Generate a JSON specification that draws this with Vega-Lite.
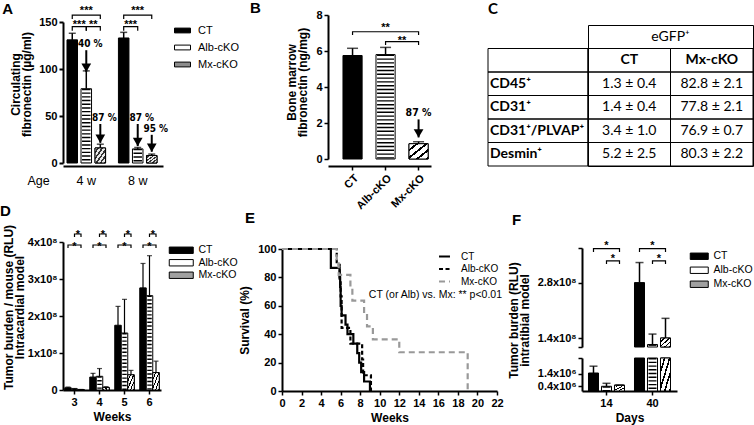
{
"$schema": "https://vega.github.io/schema/vega-lite/v6.json",
"autosize": {"type": "none"},
"padding": {"left": 63, "top": 25, "right": 691, "bottom": 400},
"background": "white",
"bounds": "flush",
"spacing": 217,
"resolve": {"scale": {"fill": "independent", "color": "independent", "strokeDash": "independent", "xOffset": "independent"}},
"vconcat": [
{"bounds": "flush", "spacing": 0,
 "resolve": {"scale": {"fill": "independent", "color": "independent", "strokeDash": "independent", "xOffset": "independent"}},
 "hconcat": [
{
"width": 265, "height": 141,
"encoding": {
 "x": {"field": "age", "type": "nominal", "title": "Age",
  "scale": {"domain": ["4 w", "8 w"], "range": [0, 100], "paddingInner": 0.25, "paddingOuter": 0.097, "align": 0.4},
  "axis": {"labelAngle": 0, "ticks": false, "labelFontWeight": "normal", "labelFontSize": 12.5, "labelPadding": 8, "titleFontWeight": "normal", "titleFontSize": 12.5, "titleX": -36, "titleY": 18, "titleAlign": "left", "titleBaseline": "alphabetic", "domainWidth": 2}},
 "xOffset": {"field": "grp", "type": "nominal", "scale": {"domain": ["CT", "Alb-cKO", "Mx-cKO"], "paddingInner": 0.25, "paddingOuter": 0}},
 "y": {"field": "v", "type": "quantitative",
  "scale": {"domain": [0, 150], "range": [138, -3], "nice": false},
  "axis": {"values": [0, 50, 100, 150], "title": ["Circulating", "fibronectin (µg/ml)"], "titleY": 59, "titleLineHeight": 11, "titlePadding": 5, "domainWidth": 2, "tickWidth": 2, "labelOverlap": false, "labelBound": false}}
},
"layer": [
 {"data": {"values": [
   {"age": "4 w", "grp": "CT", "v": 131, "hi": 138},
   {"age": "4 w", "grp": "Alb-cKO", "v": 79, "hi": 98},
   {"age": "4 w", "grp": "Mx-cKO", "v": 16, "hi": 20},
   {"age": "8 w", "grp": "CT", "v": 133, "hi": 139},
   {"age": "8 w", "grp": "Alb-cKO", "v": 15, "hi": 16.5},
   {"age": "8 w", "grp": "Mx-cKO", "v": 8, "hi": 9.5}]},
  "layer": [
   {"mark": {"type": "bar", "stroke": "black", "strokeWidth": 1},
    "encoding": {"fill": {"field": "grp", "type": "nominal", "scale": {"domain": ["CT", "Alb-cKO", "Mx-cKO"], "range": ["black", "white", "#8c8c8c"]},
     "legend": {"title": null, "orient": "none", "legendX": 110, "legendY": 0, "symbolType": "M-2,-0.6H2V0.6H-2Z", "symbolSize": 64, "symbolStrokeColor": "black", "symbolStrokeWidth": 1, "labelFontSize": 11, "labelOffset": 10, "rowPadding": 5, "symbolOffset": 4,
      "encode": {"symbols": {"update": {"stroke": {"value": "black"}, "strokeWidth": {"value": 1}}}}}}}},
   {"transform": [{"filter": "datum.grp === 'Alb-cKO'"}], "mark": {"type": "rule", "color": "black", "strokeWidth": 8.5, "strokeDash": [1.4, 2.3]}, "encoding": {"y2": {"datum": 0}}},
   {"transform": [{"filter": "datum.grp === 'Mx-cKO'"}], "mark": {"type": "bar", "stroke": "black", "strokeWidth": 1,
    "fill": {"gradient": "linear", "x1": 0, "y1": 0, "x2": 1, "y2": 1, "stops": [
     {"offset": 0, "color": "#e8e8e8"}, {"offset": 0.11, "color": "#e8e8e8"}, {"offset": 0.11, "color": "#333333"}, {"offset": 0.2, "color": "#333333"},
     {"offset": 0.2, "color": "#e8e8e8"}, {"offset": 0.31, "color": "#e8e8e8"}, {"offset": 0.31, "color": "#333333"}, {"offset": 0.4, "color": "#333333"},
     {"offset": 0.4, "color": "#e8e8e8"}, {"offset": 0.51, "color": "#e8e8e8"}, {"offset": 0.51, "color": "#333333"}, {"offset": 0.6, "color": "#333333"},
     {"offset": 0.6, "color": "#e8e8e8"}, {"offset": 0.71, "color": "#e8e8e8"}, {"offset": 0.71, "color": "#333333"}, {"offset": 0.8, "color": "#333333"},
     {"offset": 0.8, "color": "#e8e8e8"}, {"offset": 0.91, "color": "#e8e8e8"}, {"offset": 0.91, "color": "#333333"}, {"offset": 1, "color": "#333333"}]}}},
   {"mark": {"type": "rule", "color": "black", "strokeWidth": 1.5}, "encoding": {"y2": {"field": "hi"}}},
   {"mark": {"type": "tick", "orient": "horizontal", "size": 7, "thickness": 1.5, "color": "black"}, "encoding": {"y": {"field": "hi", "type": "quantitative"}}}
  ]},
 {"data": {"values": [
   {"id": "a1", "age": "4 w", "grp": "CT", "v": 153.2, "k": 0}, {"id": "a1", "age": "4 w", "grp": "CT", "v": 157.4, "k": 1}, {"id": "a1", "age": "4 w", "grp": "Mx-cKO", "v": 157.4, "k": 2}, {"id": "a1", "age": "4 w", "grp": "Mx-cKO", "v": 153.2, "k": 3},
   {"id": "a2", "age": "4 w", "grp": "CT", "v": 140.7, "k": 0}, {"id": "a2", "age": "4 w", "grp": "CT", "v": 145, "k": 1}, {"id": "a2", "age": "4 w", "grp": "Alb-cKO", "v": 145, "k": 2}, {"id": "a2", "age": "4 w", "grp": "Alb-cKO", "v": 140.7, "k": 3},
   {"id": "a3", "age": "4 w", "grp": "Alb-cKO", "v": 140.7, "k": 0}, {"id": "a3", "age": "4 w", "grp": "Alb-cKO", "v": 145, "k": 1}, {"id": "a3", "age": "4 w", "grp": "Mx-cKO", "v": 145, "k": 2}, {"id": "a3", "age": "4 w", "grp": "Mx-cKO", "v": 140.7, "k": 3},
   {"id": "a4", "age": "8 w", "grp": "CT", "v": 140.7, "k": 0}, {"id": "a4", "age": "8 w", "grp": "CT", "v": 145, "k": 1}, {"id": "a4", "age": "8 w", "grp": "Alb-cKO", "v": 145, "k": 2}, {"id": "a4", "age": "8 w", "grp": "Alb-cKO", "v": 140.7, "k": 3},
   {"id": "a5", "age": "8 w", "grp": "CT", "v": 153.2, "k": 0}, {"id": "a5", "age": "8 w", "grp": "CT", "v": 157.4, "k": 1}, {"id": "a5", "age": "8 w", "grp": "Mx-cKO", "v": 157.4, "k": 2}, {"id": "a5", "age": "8 w", "grp": "Mx-cKO", "v": 153.2, "k": 3}]},
  "mark": {"type": "line", "color": "black", "strokeWidth": 1.2},
  "encoding": {"detail": {"field": "id"}, "order": {"field": "k"}}},
 {"data": {"values": [{"age": "4 w", "grp": "Alb-cKO", "v": 158.7, "t": "***"}, {"age": "8 w", "grp": "Alb-cKO", "v": 158.7, "t": "***"}]},
  "mark": {"type": "text", "fontWeight": "bold", "fontSize": 11, "baseline": "alphabetic"}, "encoding": {"text": {"field": "t"}}},
 {"data": {"values": [{"age": "4 w", "grp": "CT", "v": 143.8, "t": "***"}, {"age": "4 w", "grp": "Alb-cKO", "v": 143.8, "t": "**"}, {"age": "8 w", "grp": "CT", "v": 143.8, "t": "***"}]},
  "mark": {"type": "text", "fontWeight": "bold", "fontSize": 11, "baseline": "alphabetic", "dx": 7}, "encoding": {"text": {"field": "t"}}},
 {"data": {"values": [
   {"age": "4 w", "grp": "Alb-cKO", "top": 120, "tip": 97, "lab": "40 %"},
   {"age": "4 w", "grp": "Mx-cKO", "top": 41.5, "tip": 21.5, "lab": "87 %"},
   {"age": "8 w", "grp": "Alb-cKO", "top": 41.5, "tip": 18, "lab": "87 %"},
   {"age": "8 w", "grp": "Mx-cKO", "top": 30, "tip": 12, "lab": "95 %"}]},
  "layer": [
   {"mark": {"type": "rule", "color": "black", "strokeWidth": 2}, "encoding": {"y": {"field": "top", "type": "quantitative"}, "y2": {"field": "tip"}}},
   {"mark": {"type": "point", "shape": "triangle-down", "filled": true, "color": "black", "opacity": 1, "size": 95, "yOffset": -4}, "encoding": {"y": {"field": "tip", "type": "quantitative"}}},
   {"mark": {"type": "text", "font": "Liberation Sans Narrow, DejaVu Sans Condensed, Liberation Sans", "fontWeight": "bold", "fontSize": 10, "baseline": "alphabetic", "dy": -3, "dx": 4}, "encoding": {"y": {"field": "top", "type": "quantitative"}, "text": {"field": "lab"}}}
  ]},
 {"data": {"values": [{"age": "4 w", "grp": "CT", "v": 158.5, "t": "A"}]},
  "mark": {"type": "text", "fontSize": 15, "fontWeight": "bold", "align": "left", "baseline": "alphabetic", "dx": -70}, "encoding": {"text": {"field": "t"}}}
]
},
{
"width": 160, "height": 141,
"encoding": {
 "x": {"field": "grp", "type": "nominal", "scale": {"domain": ["CT", "Alb-cKO", "Mx-cKO"], "range": [0, 103], "paddingInner": 0.42, "paddingOuter": 0.27, "align": 0.84},
  "axis": {"title": null, "labelAngle": -45, "domainWidth": 2}},
 "y": {"field": "v", "type": "quantitative", "scale": {"domain": [0, 8], "range": [134, -10], "nice": false},
  "axis": {"values": [0, 2, 4, 6, 8], "title": ["Bone marrow", "fibronectin (ng/mg)"], "titleY": 57, "titleLineHeight": 11, "domainWidth": 2, "labelOverlap": false, "labelBound": false}}
},
"layer": [
 {"data": {"values": [{"grp": "CT", "v": 5.75, "hi": 6.15}, {"grp": "Alb-cKO", "v": 5.8, "hi": 6.2}, {"grp": "Mx-cKO", "v": 0.85, "hi": 0.96}]},
  "layer": [
   {"mark": {"type": "bar", "stroke": "black", "strokeWidth": 1},
    "encoding": {"fill": {"field": "grp", "type": "nominal", "scale": {"domain": ["CT", "Alb-cKO", "Mx-cKO"], "range": ["black", "white", "white"]}, "legend": null}}},
   {"transform": [{"filter": "datum.grp === 'Alb-cKO'"}], "mark": {"type": "rule", "color": "black", "strokeWidth": 17, "strokeDash": [1.4, 2.4]}, "encoding": {"y2": {"datum": 0}}},
   {"transform": [{"filter": "datum.grp === 'Mx-cKO'"}], "mark": {"type": "bar", "stroke": "black", "strokeWidth": 1,
    "fill": {"gradient": "linear", "x1": 0, "y1": 0, "x2": 1, "y2": 1, "stops": [
     {"offset": 0, "color": "white"}, {"offset": 0.17, "color": "white"}, {"offset": 0.17, "color": "black"}, {"offset": 0.25, "color": "black"},
     {"offset": 0.25, "color": "white"}, {"offset": 0.42, "color": "white"}, {"offset": 0.42, "color": "black"}, {"offset": 0.5, "color": "black"},
     {"offset": 0.5, "color": "white"}, {"offset": 0.67, "color": "white"}, {"offset": 0.67, "color": "black"}, {"offset": 0.75, "color": "black"},
     {"offset": 0.75, "color": "white"}, {"offset": 0.92, "color": "white"}, {"offset": 0.92, "color": "black"}, {"offset": 1, "color": "black"}]}}},
   {"mark": {"type": "rule", "color": "black", "strokeWidth": 1.5}, "encoding": {"y2": {"field": "hi"}}},
   {"mark": {"type": "tick", "orient": "horizontal", "size": 11, "thickness": 1.5, "color": "black"}, "encoding": {"y": {"field": "hi", "type": "quantitative"}}}
  ]},
 {"data": {"values": [
   {"id": "b1", "grp": "CT", "v": 6.89, "k": 0}, {"id": "b1", "grp": "CT", "v": 7.07, "k": 1}, {"id": "b1", "grp": "Mx-cKO", "v": 7.07, "k": 2}, {"id": "b1", "grp": "Mx-cKO", "v": 6.89, "k": 3},
   {"id": "b2", "grp": "Alb-cKO", "v": 6.33, "k": 0}, {"id": "b2", "grp": "Alb-cKO", "v": 6.52, "k": 1}, {"id": "b2", "grp": "Mx-cKO", "v": 6.52, "k": 2}, {"id": "b2", "grp": "Mx-cKO", "v": 6.33, "k": 3}]},
  "mark": {"type": "line", "color": "black", "strokeWidth": 1.2},
  "encoding": {"detail": {"field": "id"}, "order": {"field": "k"}}},
 {"data": {"values": [{"grp": "Alb-cKO", "v": 7.1, "t": "**"}]},
  "mark": {"type": "text", "fontWeight": "bold", "fontSize": 11, "baseline": "alphabetic"}, "encoding": {"text": {"field": "t"}}},
 {"data": {"values": [{"grp": "Alb-cKO", "v": 6.4, "t": "**"}]},
  "mark": {"type": "text", "fontWeight": "bold", "fontSize": 11, "baseline": "alphabetic", "dx": 16.5}, "encoding": {"text": {"field": "t"}}},
 {"data": {"values": [{"grp": "Mx-cKO", "top": 2.2, "tip": 1.2, "lab": "87 %"}]},
  "layer": [
   {"mark": {"type": "rule", "color": "black", "strokeWidth": 2}, "encoding": {"y": {"field": "top", "type": "quantitative"}, "y2": {"field": "tip"}}},
   {"mark": {"type": "point", "shape": "triangle-down", "filled": true, "color": "black", "opacity": 1, "size": 95, "yOffset": -4}, "encoding": {"y": {"field": "tip", "type": "quantitative"}}},
   {"mark": {"type": "text", "font": "Liberation Sans Narrow, DejaVu Sans Condensed, Liberation Sans", "fontWeight": "bold", "fontSize": 10.5, "baseline": "alphabetic", "dy": -3}, "encoding": {"y": {"field": "top", "type": "quantitative"}, "text": {"field": "lab"}}}
  ]},
 {"data": {"values": [{"grp": "CT", "v": 8.11, "t": "B"}]},
  "mark": {"type": "text", "fontSize": 15, "fontWeight": "bold", "align": "left", "baseline": "alphabetic", "dx": -102.5}, "encoding": {"text": {"field": "t"}}}
]
},
{
"width": 100, "height": 141,
"layer": [
 {"data": {"values": [{"row": "r1"}, {"row": "r2"}, {"row": "r3"}, {"row": "r4"}, {"row": "r5"}]},
  "mark": {"type": "rect", "fill": null, "fillOpacity": 0, "stroke": "black", "strokeWidth": 1},
  "encoding": {
   "x": {"datum": "lbl", "type": "nominal", "scale": {"domain": ["lbl"], "paddingInner": 0, "paddingOuter": 0}, "axis": null},
   "y": {"field": "row", "type": "nominal", "scale": {"domain": ["r0", "r1", "r2", "r3", "r4", "r5"], "paddingInner": 0, "paddingOuter": 0}, "axis": null}}},
 {"data": {"values": [{"row": "r2", "t": "CD45⁺"}, {"row": "r3", "t": "CD31⁺"}, {"row": "r4", "t": "CD31⁺/PLVAP⁺"}, {"row": "r5", "t": "Desmin⁺"}]},
  "mark": {"type": "text", "font": "Lato", "fontWeight": "bold", "fontSize": 14, "align": "left", "baseline": "middle", "dx": 2},
  "encoding": {"x": {"datum": "lbl", "type": "nominal", "bandPosition": 0}, "y": {"field": "row", "type": "nominal"}, "text": {"field": "t"}}},
 {"data": {"values": [{}]}, "mark": {"type": "text", "text": "C", "font": "Lato", "fontSize": 15, "fontWeight": "bold", "align": "left", "baseline": "alphabetic", "dy": -11},
  "encoding": {"x": {"datum": "lbl", "type": "nominal", "bandPosition": 0}, "y": {"datum": "r0", "type": "nominal", "bandPosition": 0}}}
]
},
{
"width": 165, "height": 141,
"view": {"stroke": "black", "strokeWidth": 1},
"layer": [
 {"data": {"values": [
   {"row": "r1", "col": "CT", "t": "CT"}, {"row": "r1", "col": "Mx-cKO", "t": "Mx-cKO"},
   {"row": "r2", "col": "CT", "t": "1.3 ± 0.4"}, {"row": "r2", "col": "Mx-cKO", "t": "82.8 ± 2.1"},
   {"row": "r3", "col": "CT", "t": "1.4 ± 0.4"}, {"row": "r3", "col": "Mx-cKO", "t": "77.8 ± 2.1"},
   {"row": "r4", "col": "CT", "t": "3.4 ± 1.0"}, {"row": "r4", "col": "Mx-cKO", "t": "76.9 ± 0.7"},
   {"row": "r5", "col": "CT", "t": "5.2 ± 2.5"}, {"row": "r5", "col": "Mx-cKO", "t": "80.3 ± 2.2"}]},
  "encoding": {
   "x": {"field": "col", "type": "nominal", "scale": {"domain": ["CT", "Mx-cKO"], "paddingInner": 0, "paddingOuter": 0}, "axis": null},
   "y": {"field": "row", "type": "nominal", "scale": {"domain": ["r0", "r1", "r2", "r3", "r4", "r5"], "paddingInner": 0, "paddingOuter": 0}, "axis": null}},
  "layer": [
   {"mark": {"type": "rect", "fill": null, "fillOpacity": 0, "stroke": "black", "strokeWidth": 1}},
   {"transform": [{"filter": "datum.row === 'r1'"}], "mark": {"type": "text", "font": "Lato", "fontWeight": "bold", "fontSize": 14, "baseline": "middle"}, "encoding": {"text": {"field": "t"}}},
   {"transform": [{"filter": "datum.row !== 'r1'"}], "mark": {"type": "text", "font": "Lato", "fontSize": 14, "baseline": "middle"}, "encoding": {"text": {"field": "t"}}}
  ]},
 {"data": {"values": [{}]}, "mark": {"type": "text", "text": "eGFP⁺", "font": "Lato", "fontSize": 14, "baseline": "middle"},
  "encoding": {"x": {"datum": "CT", "type": "nominal", "bandPosition": 1}, "y": {"datum": "r0", "type": "nominal"}}}
]
}
]},
{"bounds": "flush", "spacing": 0,
 "resolve": {"scale": {"fill": "independent", "color": "independent", "strokeDash": "independent", "xOffset": "independent"}},
 "hconcat": [
{
"width": 219, "height": 148,
"encoding": {
 "x": {"field": "wk", "type": "nominal", "scale": {"domain": ["3", "4", "5", "6"], "range": [0, 98], "paddingInner": 0.22, "paddingOuter": 0.07},
  "axis": {"title": "Weeks", "labelAngle": 0, "titlePadding": 4, "domainWidth": 2}},
 "xOffset": {"field": "grp", "type": "nominal", "scale": {"domain": ["CT", "Alb-cKO", "Mx-cKO"], "paddingInner": 0, "paddingOuter": 0}},
 "y": {"field": "v", "type": "quantitative", "scale": {"domain": [0, 400000000], "nice": false},
  "axis": {"values": [0, 100000000, 200000000, 300000000, 400000000], "labelExpr": "datum.value == 0 ? '0' : (datum.value / 100000000) + 'x10⁸'", "title": ["Tumor burden / mouse (RLU)", "Intracardial model"], "titleY": 65, "titleLineHeight": 11, "titlePadding": 1, "domainWidth": 2, "labelOverlap": false, "labelBound": false}}
},
"layer": [
 {"data": {"values": [
   {"wk": "3", "grp": "CT", "v": 6000000, "hi": 8000000}, {"wk": "3", "grp": "Alb-cKO", "v": 3000000, "hi": 4000000}, {"wk": "3", "grp": "Mx-cKO", "v": 1000000, "hi": 1500000},
   {"wk": "4", "grp": "CT", "v": 35000000, "hi": 45000000}, {"wk": "4", "grp": "Alb-cKO", "v": 37000000, "hi": 58000000}, {"wk": "4", "grp": "Mx-cKO", "v": 7000000, "hi": 9000000},
   {"wk": "5", "grp": "CT", "v": 175000000, "hi": 226000000}, {"wk": "5", "grp": "Alb-cKO", "v": 154000000, "hi": 245000000}, {"wk": "5", "grp": "Mx-cKO", "v": 41000000, "hi": 53000000},
   {"wk": "6", "grp": "CT", "v": 276000000, "hi": 342000000}, {"wk": "6", "grp": "Alb-cKO", "v": 255000000, "hi": 363000000}, {"wk": "6", "grp": "Mx-cKO", "v": 47000000, "hi": 78000000}]},
  "layer": [
   {"mark": {"type": "bar", "stroke": "black", "strokeWidth": 1},
    "encoding": {"fill": {"field": "grp", "type": "nominal", "scale": {"domain": ["CT", "Alb-cKO", "Mx-cKO"], "range": ["black", "white", "#a0a0a0"]},
     "legend": {"title": null, "orient": "none", "legendX": 105, "legendY": 3, "symbolType": "M-3,-0.8H3V0.8H-3Z", "symbolSize": 64, "symbolStrokeColor": "black", "symbolStrokeWidth": 1, "labelFontSize": 10.5, "labelOffset": 12, "rowPadding": 1.5, "symbolOffset": 8,
      "encode": {"symbols": {"update": {"stroke": {"value": "black"}, "strokeWidth": {"value": 1}}}}}}}},
   {"transform": [{"filter": "datum.grp === 'Alb-cKO'"}], "mark": {"type": "rule", "color": "black", "strokeWidth": 4.5, "strokeDash": [1.4, 2.3]}, "encoding": {"y2": {"datum": 0}}},
   {"transform": [{"filter": "datum.grp === 'Mx-cKO'"}], "mark": {"type": "bar", "stroke": "black", "strokeWidth": 1,
    "fill": {"gradient": "linear", "x1": 0, "y1": 0, "x2": 1, "y2": 1, "stops": [
     {"offset": 0, "color": "white"}, {"offset": 0.17, "color": "white"}, {"offset": 0.17, "color": "black"}, {"offset": 0.25, "color": "black"},
     {"offset": 0.25, "color": "white"}, {"offset": 0.42, "color": "white"}, {"offset": 0.42, "color": "black"}, {"offset": 0.5, "color": "black"},
     {"offset": 0.5, "color": "white"}, {"offset": 0.67, "color": "white"}, {"offset": 0.67, "color": "black"}, {"offset": 0.75, "color": "black"},
     {"offset": 0.75, "color": "white"}, {"offset": 0.92, "color": "white"}, {"offset": 0.92, "color": "black"}, {"offset": 1, "color": "black"}]}}},
   {"mark": {"type": "rule", "color": "black", "strokeWidth": 1.2}, "encoding": {"y2": {"field": "hi"}}},
   {"mark": {"type": "tick", "orient": "horizontal", "size": 5, "thickness": 1.2, "color": "black"}, "encoding": {"y": {"field": "hi", "type": "quantitative"}}}
  ]},
 {"data": {"values": [
   {"id": "s3", "wk": "3", "grp": "Alb-cKO", "v": 413500000, "k": 0}, {"id": "s3", "wk": "3", "grp": "Alb-cKO", "v": 421600000, "k": 1}, {"id": "s3", "wk": "3", "grp": "Mx-cKO", "v": 421600000, "k": 2}, {"id": "s3", "wk": "3", "grp": "Mx-cKO", "v": 413500000, "k": 3},
   {"id": "b3", "wk": "3", "grp": "CT", "v": 383800000, "k": 0}, {"id": "b3", "wk": "3", "grp": "CT", "v": 391900000, "k": 1}, {"id": "b3", "wk": "3", "grp": "Mx-cKO", "v": 391900000, "k": 2}, {"id": "b3", "wk": "3", "grp": "Mx-cKO", "v": 383800000, "k": 3},
   {"id": "s4", "wk": "4", "grp": "Alb-cKO", "v": 413500000, "k": 0}, {"id": "s4", "wk": "4", "grp": "Alb-cKO", "v": 421600000, "k": 1}, {"id": "s4", "wk": "4", "grp": "Mx-cKO", "v": 421600000, "k": 2}, {"id": "s4", "wk": "4", "grp": "Mx-cKO", "v": 413500000, "k": 3},
   {"id": "b4", "wk": "4", "grp": "CT", "v": 383800000, "k": 0}, {"id": "b4", "wk": "4", "grp": "CT", "v": 391900000, "k": 1}, {"id": "b4", "wk": "4", "grp": "Mx-cKO", "v": 391900000, "k": 2}, {"id": "b4", "wk": "4", "grp": "Mx-cKO", "v": 383800000, "k": 3},
   {"id": "s5", "wk": "5", "grp": "Alb-cKO", "v": 413500000, "k": 0}, {"id": "s5", "wk": "5", "grp": "Alb-cKO", "v": 421600000, "k": 1}, {"id": "s5", "wk": "5", "grp": "Mx-cKO", "v": 421600000, "k": 2}, {"id": "s5", "wk": "5", "grp": "Mx-cKO", "v": 413500000, "k": 3},
   {"id": "b5", "wk": "5", "grp": "CT", "v": 383800000, "k": 0}, {"id": "b5", "wk": "5", "grp": "CT", "v": 391900000, "k": 1}, {"id": "b5", "wk": "5", "grp": "Mx-cKO", "v": 391900000, "k": 2}, {"id": "b5", "wk": "5", "grp": "Mx-cKO", "v": 383800000, "k": 3},
   {"id": "s6", "wk": "6", "grp": "Alb-cKO", "v": 413500000, "k": 0}, {"id": "s6", "wk": "6", "grp": "Alb-cKO", "v": 421600000, "k": 1}, {"id": "s6", "wk": "6", "grp": "Mx-cKO", "v": 421600000, "k": 2}, {"id": "s6", "wk": "6", "grp": "Mx-cKO", "v": 413500000, "k": 3},
   {"id": "b6", "wk": "6", "grp": "CT", "v": 383800000, "k": 0}, {"id": "b6", "wk": "6", "grp": "CT", "v": 391900000, "k": 1}, {"id": "b6", "wk": "6", "grp": "Mx-cKO", "v": 391900000, "k": 2}, {"id": "b6", "wk": "6", "grp": "Mx-cKO", "v": 383800000, "k": 3}]},
  "mark": {"type": "line", "color": "black", "strokeWidth": 1.2},
  "encoding": {"detail": {"field": "id"}, "order": {"field": "k"}}},
 {"data": {"values": [{"wk": "3", "grp": "Alb-cKO", "v": 377600000}, {"wk": "4", "grp": "Alb-cKO", "v": 377600000}, {"wk": "5", "grp": "Alb-cKO", "v": 377600000}, {"wk": "6", "grp": "Alb-cKO", "v": 377600000}]},
  "mark": {"type": "text", "text": "*", "fontWeight": "bold", "fontSize": 11, "baseline": "alphabetic"}},
 {"data": {"values": [{"wk": "3", "grp": "Alb-cKO", "v": 410000000}, {"wk": "4", "grp": "Alb-cKO", "v": 410000000}, {"wk": "5", "grp": "Alb-cKO", "v": 410000000}, {"wk": "6", "grp": "Alb-cKO", "v": 410000000}]},
  "mark": {"type": "text", "text": "*", "fontWeight": "bold", "fontSize": 11, "baseline": "alphabetic", "dx": 3.3}},
 {"data": {"values": [{"wk": "3", "grp": "CT", "v": 470000000, "t": "D"}]},
  "mark": {"type": "text", "fontSize": 15, "fontWeight": "bold", "align": "left", "baseline": "alphabetic", "dx": -68}, "encoding": {"text": {"field": "t"}}}
]
},
{
"width": 300, "height": 149,
"encoding": {
 "x": {"field": "t", "type": "quantitative", "scale": {"domain": [0, 22], "range": [0, 215], "nice": false, "zero": false},
  "axis": {"values": [0, 2, 4, 6, 8, 10, 12, 14, 16, 18, 20, 22], "title": "Weeks", "titlePadding": 4, "domainWidth": 2, "labelOverlap": false, "labelBound": false, "labelFlush": false}},
 "y": {"field": "s", "type": "quantitative", "scale": {"domain": [0, 100], "range": [149, 7], "nice": false},
  "axis": {"values": [0, 20, 40, 60, 80, 100], "title": "Survival (%)", "domainWidth": 2, "labelOverlap": false, "labelBound": false, "labelFlush": false}}
},
"layer": [
 {"data": {"values": [
   {"g": "CT", "t": 0, "s": 100}, {"g": "CT", "t": 5.0, "s": 86.7}, {"g": "CT", "t": 5.9, "s": 80}, {"g": "CT", "t": 5.95, "s": 73.3}, {"g": "CT", "t": 6.0, "s": 60}, {"g": "CT", "t": 6.1, "s": 53.3}, {"g": "CT", "t": 6.5, "s": 46.7}, {"g": "CT", "t": 6.7, "s": 40}, {"g": "CT", "t": 7.3, "s": 33.3}, {"g": "CT", "t": 7.7, "s": 26.7}, {"g": "CT", "t": 7.9, "s": 20}, {"g": "CT", "t": 8.1, "s": 13.3}, {"g": "CT", "t": 8.4, "s": 6.7}, {"g": "CT", "t": 9.0, "s": 0},
   {"g": "Alb-cKO", "t": 0, "s": 100}, {"g": "Alb-cKO", "t": 5.6, "s": 88.9}, {"g": "Alb-cKO", "t": 5.9, "s": 77.8}, {"g": "Alb-cKO", "t": 6.0, "s": 66.7}, {"g": "Alb-cKO", "t": 6.1, "s": 44.4}, {"g": "Alb-cKO", "t": 7.0, "s": 33.3}, {"g": "Alb-cKO", "t": 8.2, "s": 22.2}, {"g": "Alb-cKO", "t": 8.3, "s": 11.1}, {"g": "Alb-cKO", "t": 9.1, "s": 0},
   {"g": "Mx-cKO", "t": 0, "s": 100}, {"g": "Mx-cKO", "t": 5.6, "s": 90.9}, {"g": "Mx-cKO", "t": 5.8, "s": 81.8}, {"g": "Mx-cKO", "t": 7.0, "s": 72.7}, {"g": "Mx-cKO", "t": 7.2, "s": 63.6}, {"g": "Mx-cKO", "t": 8.4, "s": 54.5}, {"g": "Mx-cKO", "t": 8.7, "s": 45.5}, {"g": "Mx-cKO", "t": 9.3, "s": 36.4}, {"g": "Mx-cKO", "t": 12.0, "s": 27.3}, {"g": "Mx-cKO", "t": 19.0, "s": 0}]},
  "mark": {"type": "line", "interpolate": "step-after", "strokeWidth": 2.2},
  "encoding": {
   "color": {"field": "g", "type": "nominal", "scale": {"domain": ["CT", "Alb-cKO", "Mx-cKO"], "range": ["black", "black", "#999999"]},
    "legend": {"title": null, "orient": "none", "legendX": 156, "legendY": 8, "symbolType": "stroke", "symbolSize": 120, "symbolStrokeWidth": 2, "labelFontSize": 10, "rowPadding": 0.5, "labelOffset": 10}},
   "strokeDash": {"field": "g", "type": "nominal", "scale": {"domain": ["CT", "Alb-cKO", "Mx-cKO"], "range": [[1, 0], [4, 2.5], [6, 4]]},
    "legend": {"title": null, "orient": "none", "legendX": 156, "legendY": 8, "symbolType": "stroke", "symbolSize": 120, "symbolStrokeWidth": 2, "labelFontSize": 10, "rowPadding": 0.5, "labelOffset": 10}},
   "order": {"field": "t"}}},
 {"data": {"values": [{"t": 15.7, "s": 65.7, "lab": "CT (or Alb) vs. Mx: ** p<0.01"}]},
  "mark": {"type": "text", "fontSize": 10.5, "align": "center", "baseline": "alphabetic"},
  "encoding": {"text": {"field": "lab"}}},
 {"data": {"values": [{"t": 0, "s": 118.3, "lab": "E"}]},
  "mark": {"type": "text", "fontSize": 15, "fontWeight": "bold", "align": "left", "baseline": "alphabetic", "dx": -37},
  "encoding": {"text": {"field": "lab"}}}
]
},
{
"width": 95, "height": 149,
"encoding": {
 "x": {"field": "day", "type": "nominal", "scale": {"domain": ["14", "40"], "paddingInner": 0.217, "paddingOuter": 0.141},
  "axis": {"title": "Days", "labelAngle": 0, "titlePadding": 4, "domainWidth": 2}},
 "xOffset": {"field": "grp", "type": "nominal", "scale": {"domain": ["CT", "Alb-cKO", "Mx-cKO"], "paddingInner": 0.23, "paddingOuter": 0}}
},
"resolve": {"scale": {"y": "independent"}},
"layer": [
 {
  "encoding": {"y": {"field": "v", "type": "quantitative", "scale": {"domain": [117100000, 369000000], "range": [105, 6], "nice": false, "zero": false},
   "axis": {"orient": "left", "values": [117100000, 140000000, 280000000, 369000000], "labelExpr": "datum.value == 140000000 ? '1.4x10⁸' : datum.value == 280000000 ? '2.8x10⁸' : ''", "title": ["Tumor burden (RLU)", "intratibial model"], "titleY": 78, "titleLineHeight": 11, "domainWidth": 2, "labelOverlap": false, "labelBound": false}}},
  "layer": [
   {"data": {"values": [
     {"day": "40", "grp": "CT", "v": 281000000, "hi": 332000000}, {"day": "40", "grp": "Alb-cKO", "v": 123500000, "hi": 150000000}, {"day": "40", "grp": "Mx-cKO", "v": 140000000, "hi": 190000000}]},
    "layer": [
     {"mark": {"type": "bar", "stroke": "black", "strokeWidth": 1},
      "encoding": {"y2": {"datum": 117100000}, "fill": {"field": "grp", "type": "nominal", "scale": {"domain": ["CT", "Alb-cKO", "Mx-cKO"], "range": ["black", "white", "#a0a0a0"]},
       "legend": {"title": null, "orient": "none", "legendX": 107, "legendY": 9, "symbolType": "M-2.25,-0.8H2.25V0.8H-2.25Z", "symbolSize": 64, "symbolStrokeColor": "black", "symbolStrokeWidth": 1, "labelFontSize": 10.5, "labelOffset": 9, "rowPadding": 3, "symbolOffset": 5,
        "encode": {"symbols": {"update": {"stroke": {"value": "black"}, "strokeWidth": {"value": 1}}}}}}}},
     {"transform": [{"filter": "datum.grp === 'Alb-cKO'"}], "mark": {"type": "rule", "color": "black", "strokeWidth": 8, "strokeDash": [1.4, 2.3]}, "encoding": {"y2": {"datum": 117100000}}},
     {"transform": [{"filter": "datum.grp === 'Mx-cKO'"}], "mark": {"type": "bar", "stroke": "black", "strokeWidth": 1,
      "fill": {"gradient": "linear", "x1": 0, "y1": 0, "x2": 1, "y2": 1, "stops": [
       {"offset": 0, "color": "white"}, {"offset": 0.17, "color": "white"}, {"offset": 0.17, "color": "black"}, {"offset": 0.25, "color": "black"},
       {"offset": 0.25, "color": "white"}, {"offset": 0.42, "color": "white"}, {"offset": 0.42, "color": "black"}, {"offset": 0.5, "color": "black"},
       {"offset": 0.5, "color": "white"}, {"offset": 0.67, "color": "white"}, {"offset": 0.67, "color": "black"}, {"offset": 0.75, "color": "black"},
       {"offset": 0.75, "color": "white"}, {"offset": 0.92, "color": "white"}, {"offset": 0.92, "color": "black"}, {"offset": 1, "color": "black"}]}},
      "encoding": {"y2": {"datum": 117100000}}},
     {"mark": {"type": "rule", "color": "black", "strokeWidth": 1.5}, "encoding": {"y2": {"field": "hi"}}},
     {"mark": {"type": "tick", "orient": "horizontal", "size": 8, "thickness": 1.5, "color": "black"}, "encoding": {"y": {"field": "hi", "type": "quantitative"}}}
    ]},
   {"data": {"values": [
     {"id": "f1", "day": "14", "grp": "CT", "v": 358900000, "k": 0}, {"id": "f1", "day": "14", "grp": "CT", "v": 367300000, "k": 1}, {"id": "f1", "day": "14", "grp": "Mx-cKO", "v": 367300000, "k": 2}, {"id": "f1", "day": "14", "grp": "Mx-cKO", "v": 358900000, "k": 3},
     {"id": "f2", "day": "14", "grp": "Alb-cKO", "v": 328300000, "k": 0}, {"id": "f2", "day": "14", "grp": "Alb-cKO", "v": 336000000, "k": 1}, {"id": "f2", "day": "14", "grp": "Mx-cKO", "v": 336000000, "k": 2}, {"id": "f2", "day": "14", "grp": "Mx-cKO", "v": 328300000, "k": 3},
     {"id": "f3", "day": "40", "grp": "CT", "v": 358900000, "k": 0}, {"id": "f3", "day": "40", "grp": "CT", "v": 367300000, "k": 1}, {"id": "f3", "day": "40", "grp": "Mx-cKO", "v": 367300000, "k": 2}, {"id": "f3", "day": "40", "grp": "Mx-cKO", "v": 358900000, "k": 3},
     {"id": "f4", "day": "40", "grp": "Alb-cKO", "v": 328300000, "k": 0}, {"id": "f4", "day": "40", "grp": "Alb-cKO", "v": 336000000, "k": 1}, {"id": "f4", "day": "40", "grp": "Mx-cKO", "v": 336000000, "k": 2}, {"id": "f4", "day": "40", "grp": "Mx-cKO", "v": 328300000, "k": 3}]},
    "mark": {"type": "line", "color": "black", "strokeWidth": 1.2},
    "encoding": {"detail": {"field": "id"}, "order": {"field": "k"}}},
   {"data": {"values": [{"day": "14", "grp": "Alb-cKO", "v": 365800000}, {"day": "40", "grp": "Alb-cKO", "v": 365800000}]},
    "mark": {"type": "text", "text": "*", "fontWeight": "bold", "fontSize": 11, "baseline": "alphabetic"}},
   {"data": {"values": [{"day": "14", "grp": "Alb-cKO", "v": 332700000}, {"day": "40", "grp": "Alb-cKO", "v": 332700000}]},
    "mark": {"type": "text", "text": "*", "fontWeight": "bold", "fontSize": 11, "baseline": "alphabetic", "dx": 6.5}},
   {"data": {"values": [{"day": "14", "grp": "CT", "v": 427600000, "t": "F"}]},
    "mark": {"type": "text", "fontSize": 15, "fontWeight": "bold", "align": "left", "baseline": "alphabetic", "dx": -81.5}, "encoding": {"text": {"field": "t"}}}
  ]
 },
 {
  "encoding": {"y": {"field": "v", "type": "quantitative", "scale": {"domain": [0, 2660000], "range": [149, 116], "nice": false, "clamp": true},
   "axis": {"orient": "left", "values": [400000, 1400000, 2660000], "labelExpr": "datum.value == 400000 ? '0.4x10⁶' : datum.value == 1400000 ? '1.4x10⁶' : ''", "title": null, "domainWidth": 2, "labelOverlap": false, "labelBound": false}}},
  "layer": [
   {"data": {"values": [
     {"day": "14", "grp": "CT", "v": 1450000, "hi": 2000000}, {"day": "14", "grp": "Alb-cKO", "v": 380000, "hi": 620000}, {"day": "14", "grp": "Mx-cKO", "v": 470000, "hi": 470000},
     {"day": "40", "grp": "CT", "v": 281000000, "hi": 332000000}, {"day": "40", "grp": "Alb-cKO", "v": 123500000, "hi": 150000000}, {"day": "40", "grp": "Mx-cKO", "v": 140000000, "hi": 190000000}]},
    "layer": [
     {"mark": {"type": "bar", "stroke": "black", "strokeWidth": 1},
      "encoding": {"fill": {"field": "grp", "type": "nominal", "scale": {"domain": ["CT", "Alb-cKO", "Mx-cKO"], "range": ["black", "white", "#a0a0a0"]},
       "legend": {"title": null, "orient": "none", "legendX": 107, "legendY": 9, "symbolType": "M-2.25,-0.8H2.25V0.8H-2.25Z", "symbolSize": 64, "symbolStrokeColor": "black", "symbolStrokeWidth": 1, "labelFontSize": 10.5, "labelOffset": 9, "rowPadding": 3, "symbolOffset": 5,
        "encode": {"symbols": {"update": {"stroke": {"value": "black"}, "strokeWidth": {"value": 1}}}}}}}},
     {"transform": [{"filter": "datum.grp === 'Alb-cKO'"}], "mark": {"type": "rule", "color": "black", "strokeWidth": 8, "strokeDash": [1.4, 2.3]}, "encoding": {"y2": {"datum": 0}}},
     {"transform": [{"filter": "datum.grp === 'Mx-cKO'"}], "mark": {"type": "bar", "stroke": "black", "strokeWidth": 1,
      "fill": {"gradient": "linear", "x1": 0, "y1": 0, "x2": 1, "y2": 1, "stops": [
       {"offset": 0, "color": "white"}, {"offset": 0.17, "color": "white"}, {"offset": 0.17, "color": "black"}, {"offset": 0.25, "color": "black"},
       {"offset": 0.25, "color": "white"}, {"offset": 0.42, "color": "white"}, {"offset": 0.42, "color": "black"}, {"offset": 0.5, "color": "black"},
       {"offset": 0.5, "color": "white"}, {"offset": 0.67, "color": "white"}, {"offset": 0.67, "color": "black"}, {"offset": 0.75, "color": "black"},
       {"offset": 0.75, "color": "white"}, {"offset": 0.92, "color": "white"}, {"offset": 0.92, "color": "black"}, {"offset": 1, "color": "black"}]}}},
     {"transform": [{"filter": "datum.day === '14'"}], "mark": {"type": "rule", "color": "black", "strokeWidth": 1.5}, "encoding": {"y2": {"field": "hi"}}},
     {"transform": [{"filter": "datum.day === '14'"}], "mark": {"type": "tick", "orient": "horizontal", "size": 8, "thickness": 1.5, "color": "black"}, "encoding": {"y": {"field": "hi", "type": "quantitative"}}}
    ]}
  ]
 }
]
}
]}
],
"config": {
 "view": {"stroke": null},
 "font": "Liberation Sans",
 "axis": {"domainColor": "black", "domainWidth": 1.5, "tickColor": "black", "tickWidth": 1.5, "tickSize": 4, "labelColor": "black", "labelFont": "Liberation Sans", "labelFontWeight": "bold", "labelFontSize": 11, "labelPadding": 2, "titleColor": "black", "titleFont": "Liberation Sans", "titleFontWeight": "bold", "titleFontSize": 12, "titlePadding": 6, "grid": false, "labelOverlap": false, "labelFlush": false, "labelBound": false},
 "legend": {"labelFont": "Liberation Sans", "labelColor": "black", "padding": 0},
 "text": {"font": "Liberation Sans", "color": "black"}
}
}
